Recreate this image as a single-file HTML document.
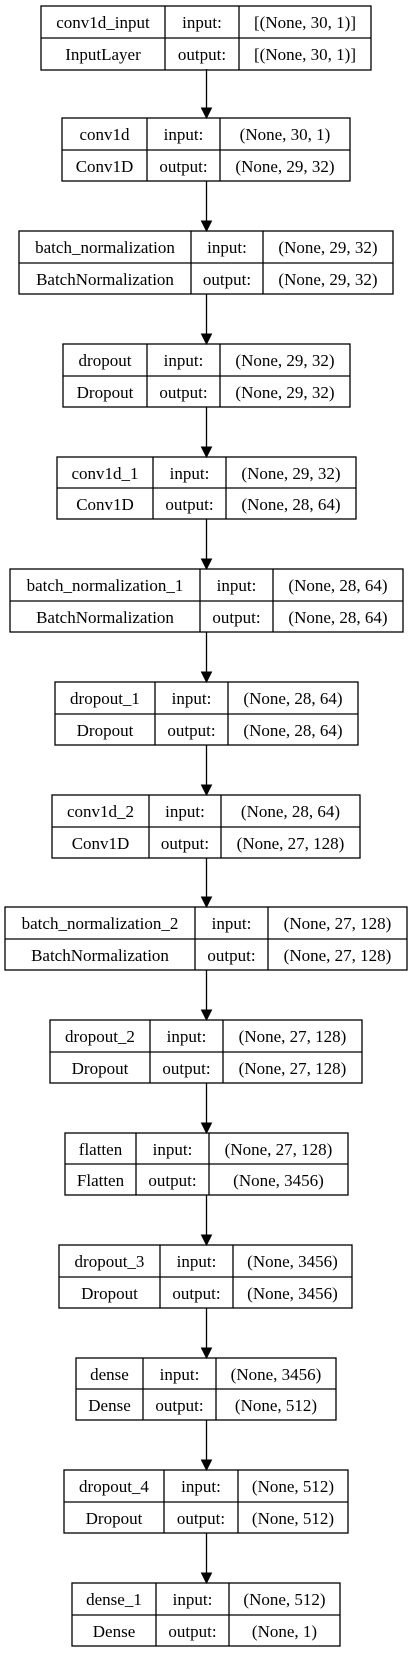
<!DOCTYPE html>
<html><head><meta charset="utf-8"><style>
html,body{margin:0;padding:0;background:#fff;}
svg{display:block;}
text{font-family:"Liberation Serif",serif;font-size:17px;fill:#000;text-anchor:middle;}
rect,line{stroke:#000;stroke-width:1.3;fill:none;}
polygon{fill:#000;stroke:#000;stroke-width:1;}
</style></head><body>
<svg width="413" height="1653" viewBox="0 0 413 1653" xmlns="http://www.w3.org/2000/svg">
<rect x="0" y="0" width="413" height="1653" style="fill:#fff;stroke:none"/>
<g transform="translate(0,1)">
<!-- Box 1 -->
<rect x="41" y="5" width="330" height="64"/><line x1="165" y1="5" x2="165" y2="69"/><line x1="239" y1="5" x2="239" y2="69"/><line x1="41" y1="37" x2="371" y2="37"/>
<text x="103" y="27">conv1d_input</text><text x="202" y="27">input:</text><text x="305" y="27">[(None, 30, 1)]</text>
<text x="103" y="59">InputLayer</text><text x="202" y="59">output:</text><text x="305" y="59">[(None, 30, 1)]</text>
</g>
<line x1="206.5" y1="69" x2="206.5" y2="108"/><polygon points="201.5,108 211.5,108 206.5,118"/>

<rect x="62" y="118" width="288" height="63"/><line x1="147" y1="118" x2="147" y2="181"/><line x1="220" y1="118" x2="220" y2="181"/><line x1="62" y1="150" x2="350" y2="150"/>
<text x="104.5" y="140">conv1d</text><text x="183.5" y="140">input:</text><text x="285" y="140">(None, 30, 1)</text>
<text x="104.5" y="172">Conv1D</text><text x="183.5" y="172">output:</text><text x="285" y="172">(None, 29, 32)</text>
<line x1="206.5" y1="181" x2="206.5" y2="221"/><polygon points="201.5,221 211.5,221 206.5,231"/>

<rect x="19" y="231" width="374" height="63"/><line x1="191" y1="231" x2="191" y2="294"/><line x1="263" y1="231" x2="263" y2="294"/><line x1="19" y1="263" x2="393" y2="263"/>
<text x="105" y="253">batch_normalization</text><text x="227" y="253">input:</text><text x="328" y="253">(None, 29, 32)</text>
<text x="105" y="285">BatchNormalization</text><text x="227" y="285">output:</text><text x="328" y="285">(None, 29, 32)</text>
<line x1="206.5" y1="294" x2="206.5" y2="334"/><polygon points="201.5,334 211.5,334 206.5,344"/>

<rect x="63" y="344" width="287" height="63"/><line x1="147" y1="344" x2="147" y2="407"/><line x1="220" y1="344" x2="220" y2="407"/><line x1="63" y1="376" x2="350" y2="376"/>
<text x="105" y="366">dropout</text><text x="183.5" y="366">input:</text><text x="285" y="366">(None, 29, 32)</text>
<text x="105" y="398">Dropout</text><text x="183.5" y="398">output:</text><text x="285" y="398">(None, 29, 32)</text>
<line x1="206.5" y1="407" x2="206.5" y2="447"/><polygon points="201.5,447 211.5,447 206.5,457"/>

<rect x="57" y="457" width="299" height="62"/><line x1="153" y1="457" x2="153" y2="519"/><line x1="226" y1="457" x2="226" y2="519"/><line x1="57" y1="488" x2="356" y2="488"/>
<text x="105" y="479">conv1d_1</text><text x="189.5" y="479">input:</text><text x="291" y="479">(None, 29, 32)</text>
<text x="105" y="510">Conv1D</text><text x="189.5" y="510">output:</text><text x="291" y="510">(None, 28, 64)</text>
<line x1="206.5" y1="519" x2="206.5" y2="559"/><polygon points="201.5,559 211.5,559 206.5,569"/>

<rect x="10" y="569" width="393" height="63"/><line x1="200" y1="569" x2="200" y2="632"/><line x1="273" y1="569" x2="273" y2="632"/><line x1="10" y1="601" x2="403" y2="601"/>
<text x="105" y="591">batch_normalization_1</text><text x="236.5" y="591">input:</text><text x="338" y="591">(None, 28, 64)</text>
<text x="105" y="623">BatchNormalization</text><text x="236.5" y="623">output:</text><text x="338" y="623">(None, 28, 64)</text>
<line x1="206.5" y1="632" x2="206.5" y2="672"/><polygon points="201.5,672 211.5,672 206.5,682"/>

<rect x="55" y="682" width="303" height="63"/><line x1="155" y1="682" x2="155" y2="745"/><line x1="228" y1="682" x2="228" y2="745"/><line x1="55" y1="714" x2="358" y2="714"/>
<text x="105" y="704">dropout_1</text><text x="191.5" y="704">input:</text><text x="293" y="704">(None, 28, 64)</text>
<text x="105" y="736">Dropout</text><text x="191.5" y="736">output:</text><text x="293" y="736">(None, 28, 64)</text>
<line x1="206.5" y1="745" x2="206.5" y2="785"/><polygon points="201.5,785 211.5,785 206.5,795"/>

<rect x="52" y="795" width="308" height="63"/><line x1="149" y1="795" x2="149" y2="858"/><line x1="221" y1="795" x2="221" y2="858"/><line x1="52" y1="827" x2="360" y2="827"/>
<text x="100.5" y="817">conv1d_2</text><text x="185" y="817">input:</text><text x="290.5" y="817">(None, 28, 64)</text>
<text x="100.5" y="849">Conv1D</text><text x="185" y="849">output:</text><text x="290.5" y="849">(None, 27, 128)</text>
<line x1="206.5" y1="858" x2="206.5" y2="897"/><polygon points="201.5,897 211.5,897 206.5,907"/>

<rect x="5" y="907" width="402" height="63"/><line x1="195" y1="907" x2="195" y2="970"/><line x1="268" y1="907" x2="268" y2="970"/><line x1="5" y1="939" x2="407" y2="939"/>
<text x="100" y="929">batch_normalization_2</text><text x="231.5" y="929">input:</text><text x="337.5" y="929">(None, 27, 128)</text>
<text x="100" y="961">BatchNormalization</text><text x="231.5" y="961">output:</text><text x="337.5" y="961">(None, 27, 128)</text>
<line x1="206.5" y1="970" x2="206.5" y2="1010"/><polygon points="201.5,1010 211.5,1010 206.5,1020"/>

<rect x="50" y="1020" width="312" height="63"/><line x1="150" y1="1020" x2="150" y2="1083"/><line x1="223" y1="1020" x2="223" y2="1083"/><line x1="50" y1="1052" x2="362" y2="1052"/>
<text x="100" y="1042">dropout_2</text><text x="186.5" y="1042">input:</text><text x="292.5" y="1042">(None, 27, 128)</text>
<text x="100" y="1074">Dropout</text><text x="186.5" y="1074">output:</text><text x="292.5" y="1074">(None, 27, 128)</text>
<line x1="206.5" y1="1083" x2="206.5" y2="1123"/><polygon points="201.5,1123 211.5,1123 206.5,1133"/>

<rect x="65" y="1133" width="283" height="62"/><line x1="136" y1="1133" x2="136" y2="1195"/><line x1="209" y1="1133" x2="209" y2="1195"/><line x1="65" y1="1164" x2="348" y2="1164"/>
<text x="100.5" y="1155">flatten</text><text x="172.5" y="1155">input:</text><text x="278.5" y="1155">(None, 27, 128)</text>
<text x="100.5" y="1186">Flatten</text><text x="172.5" y="1186">output:</text><text x="278.5" y="1186">(None, 3456)</text>
<line x1="206.5" y1="1195" x2="206.5" y2="1235"/><polygon points="201.5,1235 211.5,1235 206.5,1245"/>

<rect x="59" y="1245" width="293" height="63"/><line x1="160" y1="1245" x2="160" y2="1308"/><line x1="233" y1="1245" x2="233" y2="1308"/><line x1="59" y1="1277" x2="352" y2="1277"/>
<text x="109.5" y="1267">dropout_3</text><text x="196.5" y="1267">input:</text><text x="292.5" y="1267">(None, 3456)</text>
<text x="109.5" y="1299">Dropout</text><text x="196.5" y="1299">output:</text><text x="292.5" y="1299">(None, 3456)</text>
<line x1="206.5" y1="1308" x2="206.5" y2="1348"/><polygon points="201.5,1348 211.5,1348 206.5,1358"/>

<rect x="76" y="1358" width="260" height="62"/><line x1="143" y1="1358" x2="143" y2="1420"/><line x1="216" y1="1358" x2="216" y2="1420"/><line x1="76" y1="1389" x2="336" y2="1389"/>
<text x="109.5" y="1380">dense</text><text x="179.5" y="1380">input:</text><text x="276" y="1380">(None, 3456)</text>
<text x="109.5" y="1411">Dense</text><text x="179.5" y="1411">output:</text><text x="276" y="1411">(None, 512)</text>
<line x1="206.5" y1="1420" x2="206.5" y2="1460"/><polygon points="201.5,1460 211.5,1460 206.5,1470"/>

<rect x="64" y="1470" width="284" height="63"/><line x1="164" y1="1470" x2="164" y2="1533"/><line x1="238" y1="1470" x2="238" y2="1533"/><line x1="64" y1="1502" x2="348" y2="1502"/>
<text x="114" y="1492">dropout_4</text><text x="201" y="1492">input:</text><text x="293" y="1492">(None, 512)</text>
<text x="114" y="1524">Dropout</text><text x="201" y="1524">output:</text><text x="293" y="1524">(None, 512)</text>
<line x1="206.5" y1="1533" x2="206.5" y2="1573"/><polygon points="201.5,1573 211.5,1573 206.5,1583"/>

<rect x="72" y="1583" width="268" height="63"/><line x1="156" y1="1583" x2="156" y2="1646"/><line x1="229" y1="1583" x2="229" y2="1646"/><line x1="72" y1="1615" x2="340" y2="1615"/>
<text x="114" y="1605">dense_1</text><text x="192.5" y="1605">input:</text><text x="284.5" y="1605">(None, 512)</text>
<text x="114" y="1637">Dense</text><text x="192.5" y="1637">output:</text><text x="284.5" y="1637">(None, 1)</text>
</svg>
</body></html>
